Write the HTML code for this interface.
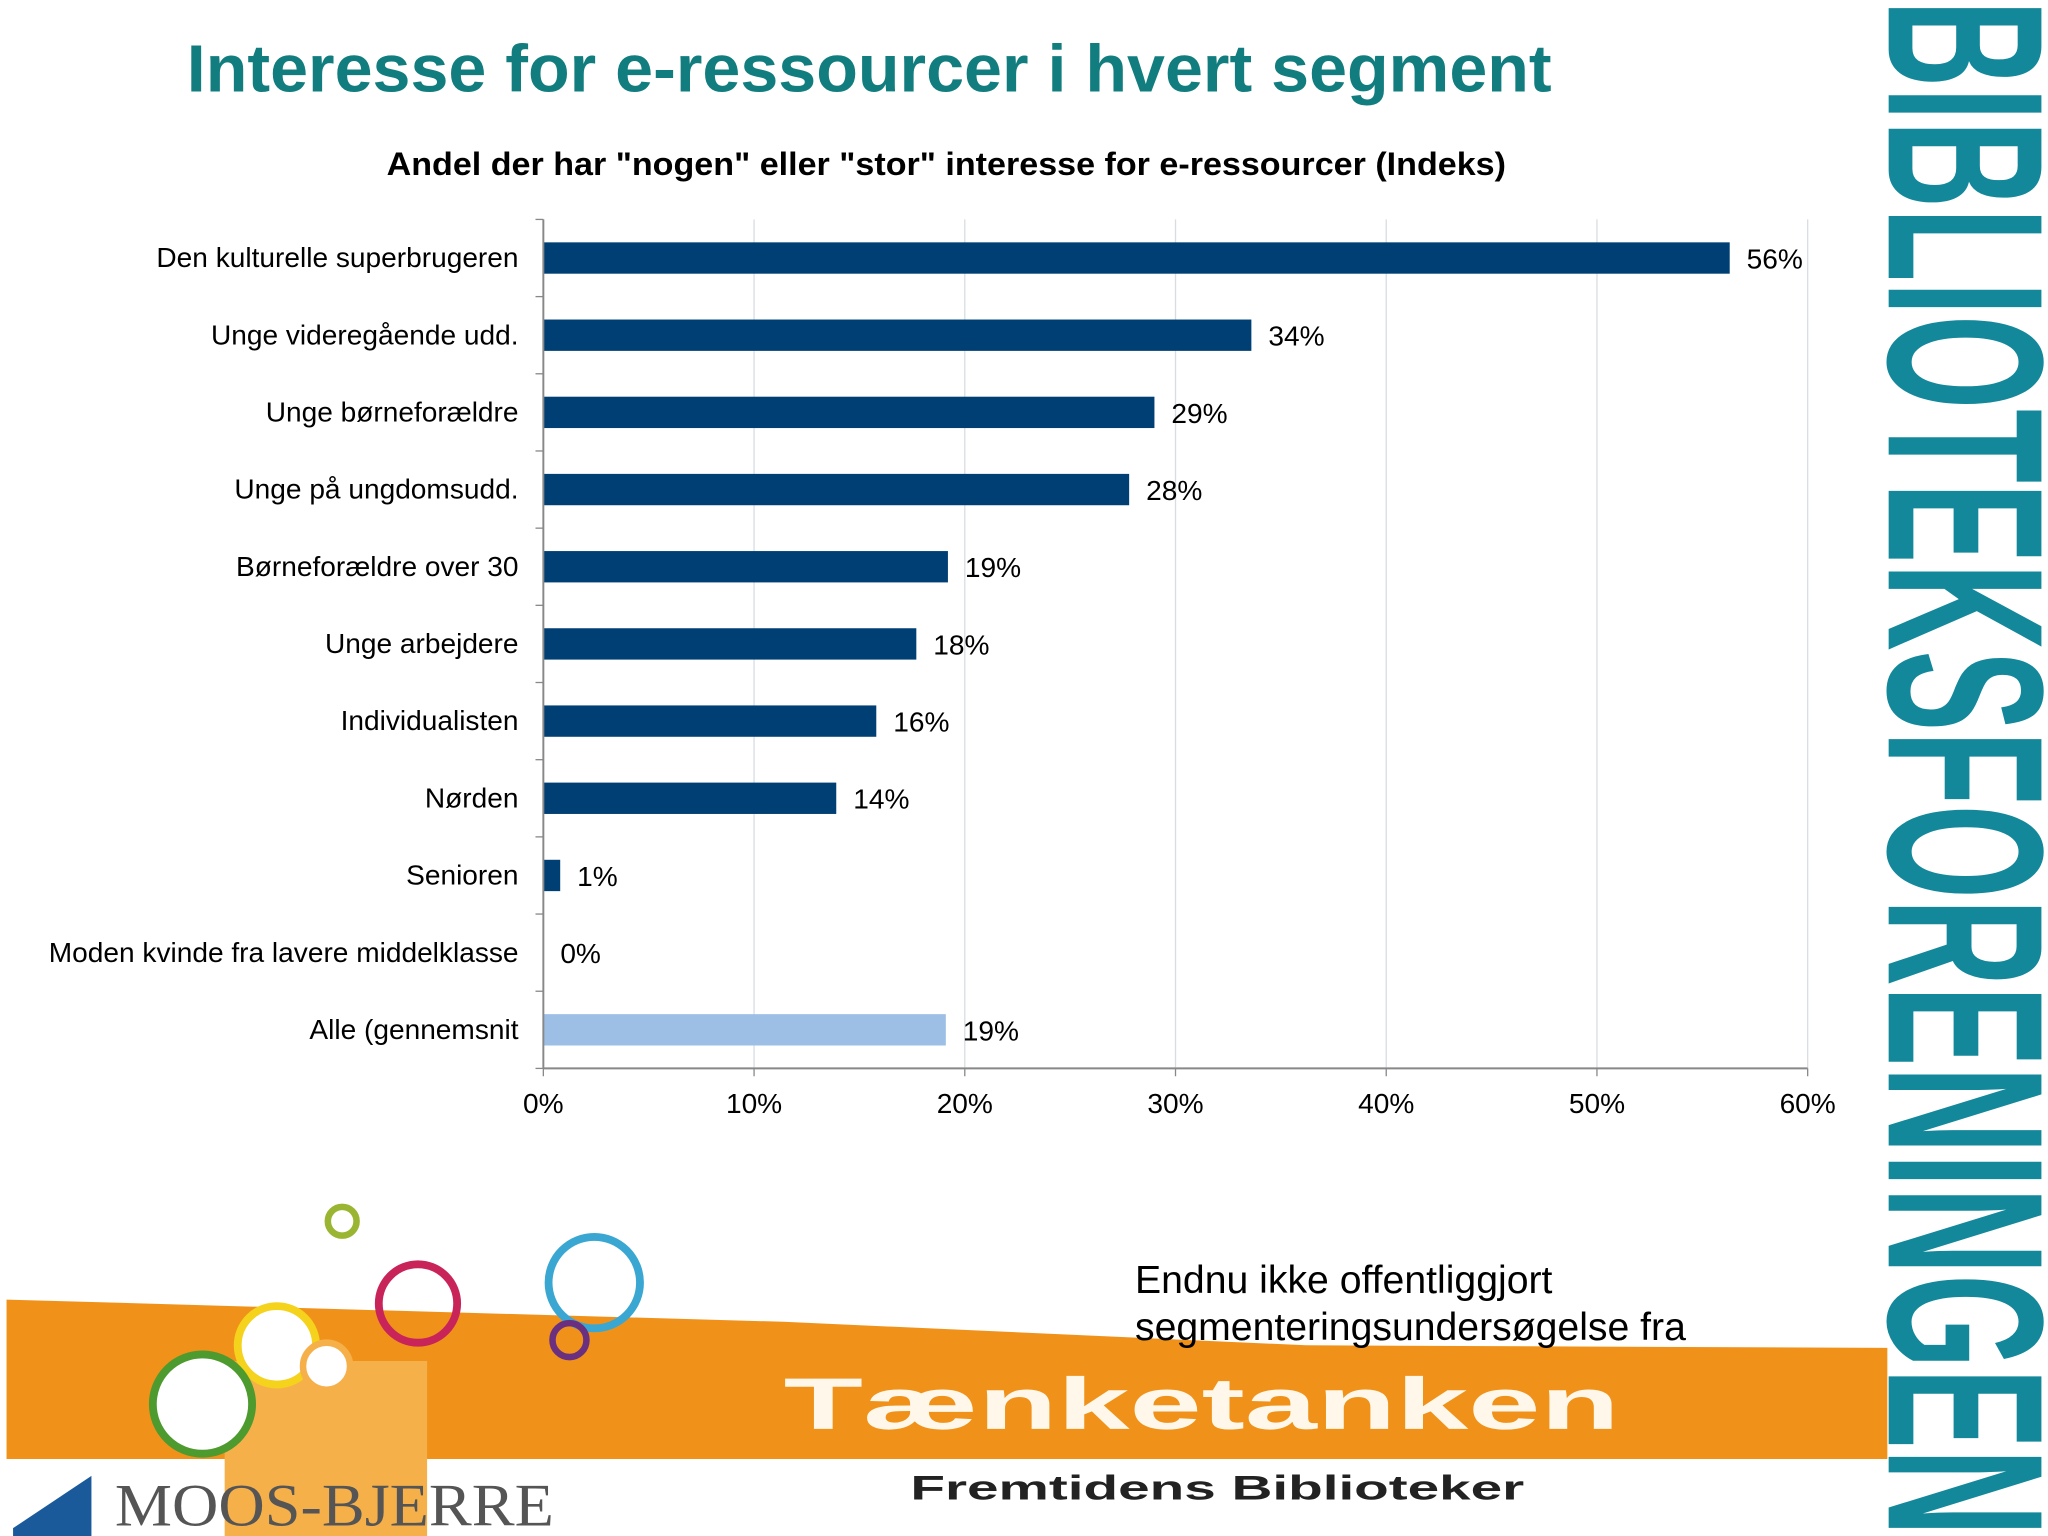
<!DOCTYPE html>
<html><head><meta charset="utf-8"><style>
html,body{margin:0;padding:0;background:#fff;}
svg{display:block;font-family:"Liberation Sans",sans-serif;}
</style></head><body>
<svg id="chart" width="2048" height="1536" viewBox="0 0 1568 1176" xmlns="http://www.w3.org/2000/svg">
<text x="143" y="70" font-size="51" font-weight="bold" fill="#127d7e" textLength="1045" lengthAdjust="spacingAndGlyphs">Interesse for e-ressourcer i hvert segment</text>
<text x="296" y="134" font-size="25" font-weight="bold" fill="#000" textLength="857" lengthAdjust="spacingAndGlyphs">Andel der har "nogen" eller "stor" interesse for e-ressourcer (Indeks)</text>
<g id="grid"></g>
<g id="bars"></g>
<g id="axes"></g>
<text transform="translate(1446,0) rotate(90)" x="0" y="0" font-size="170" font-weight="bold" fill="#13889a" textLength="1176" lengthAdjust="spacingAndGlyphs">BIBLIOTEKSFORENINGEN</text>
<g>
<polygon points="5,995 600,1012 1000,1030 1445,1032 1445,1117 5,1117" fill="#f0921a"/>
<rect x="172" y="1042" width="155" height="134" fill="#f6b04a"/>
<circle cx="262" cy="935" r="11" fill="none" stroke="#9ab531" stroke-width="5"/>
<circle cx="320" cy="998" r="30" fill="none" stroke="#c8245a" stroke-width="6"/>
<circle cx="455" cy="982" r="35" fill="none" stroke="#3aa7d2" stroke-width="6"/>
<circle cx="436" cy="1026" r="13" fill="none" stroke="#6b2f80" stroke-width="5"/>
<circle cx="212" cy="1030" r="30" fill="#fff" stroke="#f5d21b" stroke-width="6"/>
<circle cx="250" cy="1046" r="18" fill="#fff" stroke="#f6b04a" stroke-width="5"/>
<circle cx="155" cy="1075" r="38" fill="#fff" stroke="#4d9a2e" stroke-width="6"/>
<text x="600" y="1094" font-size="56" font-weight="bold" fill="#fff8ea" textLength="640" lengthAdjust="spacingAndGlyphs">Tænketanken</text>
<text x="697" y="1148" font-size="26" font-weight="bold" fill="#222" textLength="470" lengthAdjust="spacingAndGlyphs">Fremtidens Biblioteker</text>
<polygon points="10,1170 70,1130 70,1176 10,1176" fill="#1a5a9a"/>
<text x="88" y="1168" font-family="Liberation Serif,serif" font-size="46" fill="#555" textLength="336" lengthAdjust="spacingAndGlyphs">MOOS-BJERRE</text>
</g>
<text font-size="30" fill="#000"><tspan x="869" y="990">Endnu ikke offentliggjort</tspan><tspan x="869" y="1026">segmenteringsundersøgelse fra</tspan></text>
<script>
const categories = ["Den kulturelle superbrugeren","Unge videregående udd.","Unge børneforældre","Unge på ungdomsudd.","Børneforældre over 30","Unge arbejdere","Individualisten","Nørden","Senioren","Moden kvinde fra lavere middelklasse","Alle (gennemsnit"];
const values = [56.3,33.6,29,27.8,19.2,17.7,15.8,13.9,0.8,0,19.1];
const valueLabels = ["56%","34%","29%","28%","19%","18%","16%","14%","1%","0%","19%"];
const ticks = [0,10,20,30,40,50,60];
const tickLabels = ["0%","10%","20%","30%","40%","50%","60%"];
const NS="http://www.w3.org/2000/svg";
const x0=416,x1=1384,yTop=168,yBot=818;
const xs=v=>x0+(v/60)*(x1-x0);
const band=(yBot-yTop)/categories.length;
const yc=i=>yTop+band*(i+0.5);
function mk(t,a,p){const e=document.createElementNS(NS,t);for(const k in a)e.setAttribute(k,a[k]);p.appendChild(e);return e;}
const grid=document.getElementById('grid'),bars=document.getElementById('bars'),axes=document.getElementById('axes');
ticks.forEach((t,i)=>{
  if(i>0){const g=mk('line',{x1:xs(t),x2:xs(t),y1:yTop,y2:yBot,stroke:'#d8dde3','stroke-width':1},grid);
  
  }
  const tl=mk('text',{x:xs(t),y:852,'font-size':21.5,'text-anchor':'middle',fill:'#000'},axes);
  tl.textContent=tickLabels[i];
  
  
  const tk=mk('line',{x1:xs(t),x2:xs(t),y1:yBot,y2:yBot+6,stroke:'#888'},axes);
  
  
});
mk('line',{x1:x0,x2:x0,y1:yTop,y2:yBot,stroke:'#888','stroke-width':1.5},axes);
mk('line',{x1:x0,x2:x1,y1:yBot,y2:yBot,stroke:'#888','stroke-width':1.5},axes);
for(let i=0;i<=categories.length;i++){mk('line',{x1:x0-6,x2:x0,y1:yTop+band*i,y2:yTop+band*i,stroke:'#888'},axes);}
categories.forEach((c,i)=>{
  const last=i===categories.length-1;
  const r=mk('rect',{x:x0,y:yc(i)-12,width:xs(values[i])-x0,height:24,fill:last?'#9dbfe6':'#003f73'},bars);
  
  
  const lab=mk('text',{x:397,y:yc(i)+7,'font-size':21.5,'text-anchor':'end',fill:'#000'},axes);
  lab.textContent=c;
  
  
  const vl=mk('text',{x:xs(values[i])+13,y:yc(i)+8,'font-size':21.5,fill:'#000'},bars);
  vl.textContent=valueLabels[i];
  
  
});
</script>
</svg>
</body></html>
